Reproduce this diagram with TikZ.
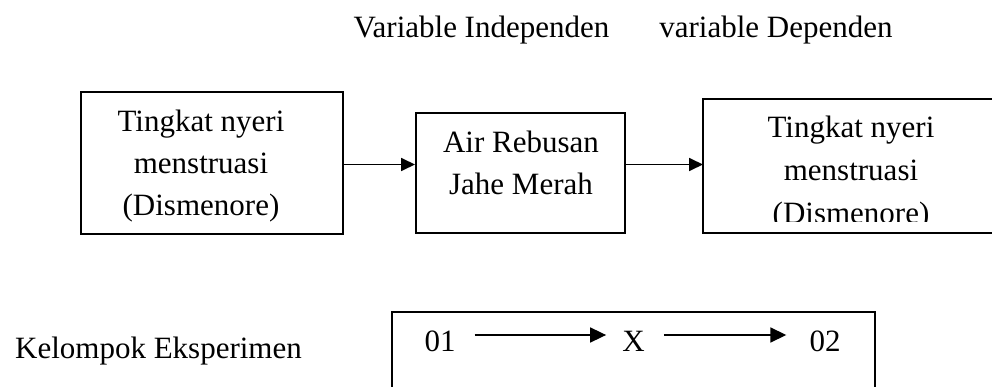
\documentclass[tikz,border=0pt]{standalone}
\usepackage{fontspec}
\setmainfont{Liberation Serif}
\usetikzlibrary{arrows.meta}
\tikzset{
  frame/.style={draw, line width=2pt, inner sep=0pt},
  edge/.style={line width=2pt},
  txt/.style={anchor=base, inner sep=0pt, font=\fontsize{31}{42}\selectfont},
  flow/.style={line width=1.8pt, -{Triangle[length=14pt,width=13pt]}},
  seq/.style={line width=1.7pt, -{Triangle[length=16pt,width=15pt]}},
}
\begin{document}
\begin{tikzpicture}[x=1pt,y=1pt]
\useasboundingbox (0,0) rectangle (992,-387);

% column headings
\node[txt] (hind) at (481.5,-38) {Variable Independen};
\node[txt] (hdep) at (776,-38) {variable Dependen};

% pre-test box
\node[frame, minimum width=262pt, minimum height=142pt] (box1) at (212,-163) {};
\node[txt] (b1a) at (201,-132) {Tingkat nyeri};
\node[txt] (b1b) at (201,-174) {menstruasi};
\node[txt] (b1c) at (201,-216) {(Dismenore)};

% treatment box
\node[frame, minimum width=209pt, minimum height=120pt] (box2) at (520.5,-173) {};
\node[txt] (b2a) at (521,-153) {Air Rebusan};
\node[txt] (b2b) at (521,-195) {Jahe Merah};

% post-test box, running off the right edge
\coordinate (b3tl) at (703,-99);
\coordinate (b3bl) at (703,-233);
\coordinate (b3tr) at (992,-99);
\coordinate (b3br) at (992,-233);
\draw[edge] (b3tr) -- (b3tl) -- (b3bl) -- (b3br);
\begin{scope}
  \clip (703,-99) rectangle (992,-222);
  \node[txt] (b3a) at (851,-138) {Tingkat nyeri};
  \node[txt] (b3b) at (851,-181) {menstruasi};
  \node[txt] (b3c) at (851,-224) {(Dismenore)};
\end{scope}

\draw[flow] (box1.east |- 0,-164.5) -- (box2.west |- 0,-164.5);
\draw[flow] (box2.east |- 0,-164.5) -- (b3tl |- 0,-164.5);

% design row
\node[txt] (grp) at (158.5,-358) {Kelompok Eksperimen};
\coordinate (gbl) at (392,-387);
\coordinate (gtl) at (392,-312);
\coordinate (gtr) at (875,-312);
\coordinate (gbr) at (875,-387);
\draw[line width=1.8pt] (gbl) -- (gtl) -- (gtr) -- (gbr);

\node[txt] (o1) at (440,-351) {01};
\node[txt] (xt) at (633.5,-351) {X};
\node[txt] (o2) at (825,-351) {02};
\draw[seq, shorten <=19pt, shorten >=16pt] (o1.east |- 0,-335) -- (xt.west |- 0,-335);
\draw[seq, shorten <=19pt, shorten >=23pt] (xt.east |- 0,-335) -- (o2.west |- 0,-335);
\end{tikzpicture}
\end{document}
